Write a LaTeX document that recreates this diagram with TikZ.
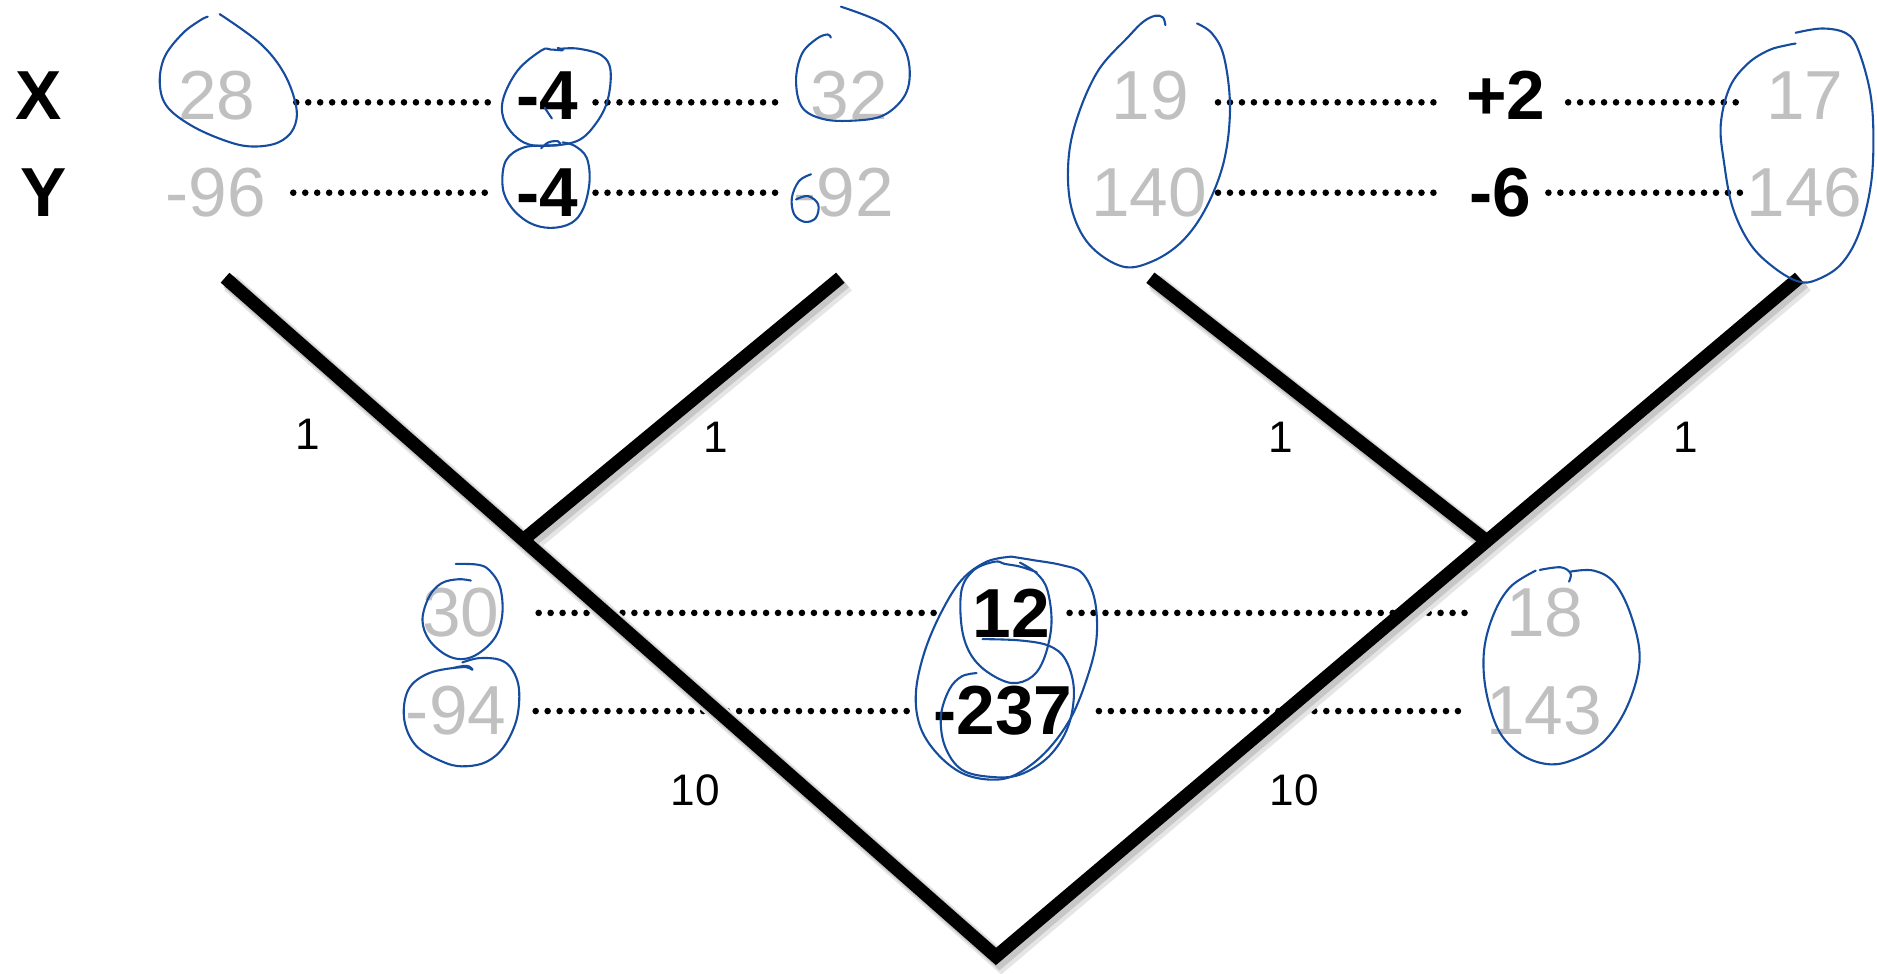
\documentclass[tikz,border=0pt]{standalone}
\usepackage{fontspec}
\setmainfont{Liberation Sans}
\usepackage{xcolor}
\usetikzlibrary{positioning}
\definecolor{valgray}{RGB}{192,192,192}
\definecolor{inkblue}{RGB}{22,76,158}

\begin{document}
\begin{tikzpicture}[x=0.02cm, y=-0.02cm,
        val/.style={text=valgray, inner sep=0pt, font=\fontsize{33}{36}\selectfont},
        diff/.style={text=black, inner sep=0pt, font=\fontsize{33}{36}\selectfont\bfseries},
        blen/.style={inner sep=0pt, font=\fontsize{21}{24}\selectfont},
        branch/.style={line width=0.22cm, line join=miter},
        branchshade/.style={line width=0.32cm, draw=black!10, line join=miter},
        branchshade2/.style={line width=0.26cm, draw=black!22, line join=miter},
        dotline/.style={line width=0.11cm, line cap=round, dash pattern=on 0pt off 0.2cm},
        lowdots/.style={dotline, transform canvas={yshift=-0.11cm}},
        inkloop/.style={draw=inkblue, line width=0.035cm, line cap=round, line join=round}
    ]
    \useasboundingbox (0,0) rectangle (1568,813);

    % row labels
    \node[diff] (labx) at (32.5,80) {X};
    \node[diff] (laby) at (36.5,161) {Y};

    % leaf values
    \node[val] (x28) at (181,80) {28};
    \node[val] (y96) at (180,161) {-96};
    \node[diff] (xd1) at (457.5,80) {-4};
    \node[diff] (yd1) at (457.5,161) {-4};
    \node[val] (x32) at (709.5,80) {32};
    \node[val] (y92) at (705,161) {-92};

    \node[val] (x19) at (961,80) {19};
    \node[val] (y140) at (960,161) {140};
    \node[diff] (xd2) at (1258,80) {+2};
    \node[diff] (yd2) at (1253,161) {-6};
    \node[val] (x17) at (1507.5,80) {17};
    \node[val] (y146) at (1507.5,161) {146};

    % inner node values
    \node[val] (mx30) at (385,512) {30};
    \node[val] (my94) at (381,594) {-94};
    \node[diff] (mxd) at (845,512) {12};
    \node[diff] (myd) at (838,594) {-237};
    \node[val] (mx18) at (1290.5,512) {18};
    \node[val] (my143) at (1290,594) {143};

    % dotted links
    \draw[lowdots, shorten <=1.33cm, shorten >=0.95cm] (x28.center) -- (xd1.center);
    \draw[lowdots, shorten <=0.8cm, shorten >=1.14cm] (xd1.center) -- (x32.center);
    \draw[dotline, shorten <=1.3cm, shorten >=0.95cm] (y96.center) -- (yd1.center);
    \draw[dotline, shorten <=0.8cm, shorten >=1.05cm] (yd1.center) -- (y92.center);
    \draw[lowdots, shorten <=1.13cm, shorten >=1.11cm] (x19.center) -- (xd2.center);
    \draw[lowdots, shorten <=1.04cm, shorten >=1.05cm] (xd2.center) -- (x17.center);
    \draw[dotline, shorten <=1.15cm, shorten >=1.01cm] (y140.center) -- (yd2.center);
    \draw[dotline, shorten <=0.81cm, shorten >=1.05cm] (yd2.center) -- (y146.center);
    \draw[dotline, shorten <=1.3cm, shorten >=1.18cm] (mx30.center) -- (mxd.center);
    \draw[dotline, shorten <=0.97cm, shorten >=1.2cm] (mxd.center) -- (mx18.center);
    \draw[dotline, shorten <=1.33cm, shorten >=1.53cm] (my94.center) -- (myd.center);
    \draw[dotline, shorten <=1.6cm, shorten >=1.32cm] (myd.center) -- (my143.center);

    % tree
    \coordinate (l1) at (188,232);
    \coordinate (l2) at (702,232);
    \coordinate (l3) at (961,232);
    \coordinate (l4) at (1503,232);
    \coordinate (n1) at (437,451);
    \coordinate (n2) at (1242,452);
    \coordinate (root) at (832,799);

    \begin{scope}[transform canvas={xshift=0.09cm, yshift=-0.09cm}]
    \draw[branchshade] (l1) -- (n1) -- (root) -- (n2) -- (l4);
    \draw[branchshade] (l2) -- (n1);
    \draw[branchshade] (l3) -- (n2);
    \end{scope}
    \begin{scope}[transform canvas={xshift=0.06cm, yshift=-0.06cm}]
    \draw[branchshade2] (l1) -- (n1) -- (root) -- (n2) -- (l4);
    \draw[branchshade2] (l2) -- (n1);
    \draw[branchshade2] (l3) -- (n2);
    \end{scope}
    \draw[branch] (l1) -- (n1) -- (root) -- (n2) -- (l4);
    \draw[branch] (l2) -- (n1);
    \draw[branch] (l3) -- (n2);

    \node[blen] (b1) at (257,363) {1};
    \node[blen] (b2) at (598,365) {1};
    \node[blen] (b3) at (1070,365) {1};
    \node[blen] (b4) at (1408,365) {1};
    \node[blen] (b5) at (581,660) {10};
    \node[blen] (b6) at (1081,660) {10};

    % hand drawn loops
    \draw[inkloop] plot[smooth, tension=0.6] coordinates {(173.5,14) (167.5,16.8) (152.5,28) (137.5,47.6) (133.5,70) (140,89.6) (162.5,106.4) (192.5,119) (212.5,122.4) (232.5,119) (245,107.8) (247.5,89.6) (237.5,61.6) (217.5,36.4) (183.5,11.8)};
    \draw[inkloop] plot[smooth, tension=0.6] coordinates {(466,40) (470,42) (460,41.4) (452.5,42) (432.5,58.8) (420,84) (422.5,103.6) (437.5,119) (457.5,121.8) (482.5,117.6) (497.5,103.6) (507.5,84) (510,58.8) (502.5,46.2) (482.5,40.6) (466,41)};
    \draw[inkloop] (455,90) -- (461,99);
    \draw[inkloop] plot[smooth, tension=0.6] coordinates {(452,124) (458,119) (466,118) (467.5,121) (460,121.5) (437.5,123.2) (422.5,134.4) (420,156.8) (427.5,173.6) (442.5,186.2) (460,190.4) (477.5,186.2) (487.5,173.6) (492.5,151.2) (490,131.6) (480,121.8) (470,119)};
    \draw[inkloop] plot[smooth, tension=0.6] coordinates {(702.5,5.6) (737.5,19.6) (755,39.2) (760,61.6) (755,81.2) (737.5,96.6) (712.5,100.8) (687.5,99.4) (670,89.6) (665,67.2) (670,44.8) (682.5,32.2) (691.5,28.8) (694,31.4)};
    \draw[inkloop] plot[smooth, tension=0.6] coordinates {(677.5,145.6) (667.5,151.2) (661.5,165.2) (663.5,179.2) (672.5,185.4) (681.5,182) (683.5,170.8) (675,163.8) (665,166.6)};
    \draw[inkloop] plot[smooth, tension=0.6] coordinates {(973.5,21) (971.5,14.6) (965,13.2) (955,18.2) (942.5,30.8) (917.5,58.8) (900,98) (892.5,134.4) (895,173.6) (910,204.4) (937.5,222.6) (962.5,218.4) (987.5,201.6) (1007.5,173.6) (1022.5,134.4) (1027.5,89.6) (1022.5,47.6) (1012.5,28) (1000,19.6)};
    \draw[inkloop] plot[smooth, tension=0.6] coordinates {(1500,27.4) (1522.5,23.8) (1542.5,28) (1552.5,42) (1562.5,78.4) (1565,117.6) (1562.5,156.8) (1552.5,196) (1537.5,221.2) (1517.5,233.8) (1502.5,235.2) (1482.5,224) (1462.5,204.4) (1447.5,173.6) (1440,134.4) (1437.5,103.6) (1445,72.8) (1460,53.2) (1477.5,42) (1492.5,37.8) (1500,36.4)};
    \draw[inkloop] plot[smooth, tension=0.6] coordinates {(380.7,471.1) (398.8,471.7) (408.5,476.1) (417.6,490) (419.7,512.3) (414.1,531.7) (400.2,545.6) (386.3,550.6) (372.4,547) (358.5,534.5) (352.9,517.8) (358.5,498.4) (368.9,487.2) (382.8,483.9) (393.3,485)};
    \draw[inkloop] plot[smooth, tension=0.6] coordinates {(378,558.1) (389.8,556.2) (394.6,559.5) (386.3,557.3) (358.5,562.3) (341.1,576.2) (337.7,601.2) (348.1,623.5) (372.4,637.4) (389.8,640.1) (407.2,636) (421.1,623.5) (431.5,601.2) (433.6,576.2) (428,559.5) (417.6,551.2) (400.2,549.8) (386.3,553.4)};
    \draw[inkloop] plot[smooth, tension=0.6] coordinates {(866,478) (852,473.3) (839.4,471.1) (831.1,469.2) (813.7,476.1) (803.3,492.8) (803.3,523.4) (810.3,545.6) (824.2,560.9) (845,570.6) (862.4,565.1) (872.8,548.4) (878.4,520.6) (874.9,492.8) (865.9,478.9) (852,470)};
    \draw[inkloop] plot[smooth, tension=0.6] coordinates {(845,465) (862.4,467.8) (886.7,472) (904.1,478.9) (914.5,501.1) (915.9,534.5) (907.6,567.9) (893.7,601.2) (872.8,629) (848.5,647.1) (827.6,651.3) (803.3,645.7) (782.4,629) (768.6,606.8) (765.1,579) (772,545.6) (785.9,512.3) (803.3,484.5) (824.2,469.2) (845,465)};
    \draw[inkloop] plot[smooth, tension=0.6] coordinates {(820.7,533.9) (852,535) (876.3,539.5) (890.2,551.2) (897.1,576.2) (892.3,606.8) (876.3,631.8) (852,647.1) (827.6,649) (803.3,642.9) (789.4,623.5) (786,598.4) (792.9,576.2) (803.3,565.1) (815.8,562.3)};
    \draw[inkloop] plot[smooth, tension=0.6] coordinates {(1286.3,476.1) (1303.7,473.9) (1312,478.9) (1310.7,485.9)};
    \draw[inkloop] plot[smooth, tension=0.6] coordinates {(1312,477.5) (1331.5,476.7) (1348.9,487.2) (1362.8,515) (1369.7,551.2) (1359.3,590.1) (1338.5,620.7) (1310.7,636) (1289.8,637.9) (1268.9,629) (1251.6,609.6) (1241.2,576.2) (1239.8,542.8) (1248.1,512.3) (1262,490) (1282.9,476.7)};

\end{tikzpicture}
\end{document}
